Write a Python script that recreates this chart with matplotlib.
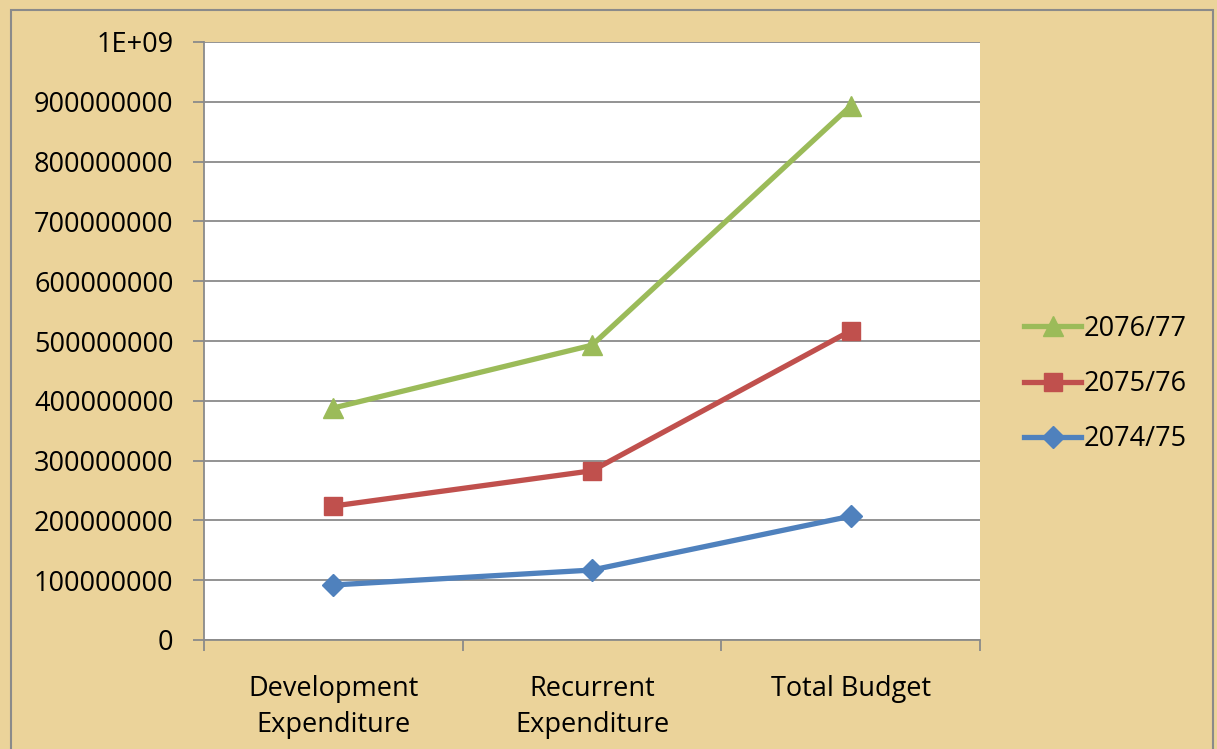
import matplotlib
matplotlib.use("Agg")
import matplotlib.pyplot as plt
from matplotlib.patches import Rectangle

categories = ["Development\nExpenditure", "Recurrent\nExpenditure", "Total Budget"]
fy_7475 = [92000000, 117000000, 207000000]
fy_7576 = [224000000, 283000000, 517000000]
fy_7677 = [388000000, 493000000, 893000000]
yticks = [0, 100000000, 200000000, 300000000, 400000000, 500000000,
          600000000, 700000000, 800000000, 900000000, 1000000000]
ylabels = ["0", "100000000", "200000000", "300000000", "400000000", "500000000",
           "600000000", "700000000", "800000000", "900000000", "1E+09"]

plt.rcParams['font.family'] = ['Open Sans', 'DejaVu Sans']

W, H = 1217, 749
fig = plt.figure(figsize=(W / 100, H / 100), dpi=100)
fig.patch.set_facecolor("#EBD39A")

# outer frame of the chart area
fig.patches.append(Rectangle((11 / W, -0.05), (1213 - 11) / W, 1.05 - 10 / H,
                             transform=fig.transFigure, fill=False,
                             edgecolor="#8a8a8a", linewidth=1.5))

ax = fig.add_axes([204 / W, 1 - 640 / H, (980 - 204) / W, (640 - 42) / H])
ax.set_facecolor("white")

x = range(len(categories))
ax.plot(x, fy_7677, color="#9BBB59", lw=3.8, marker="^", ms=14, label="2076/77")
ax.plot(x, fy_7576, color="#C0504D", lw=3.8, marker="s", ms=13, label="2075/76")
ax.plot(x, fy_7475, color="#4F81BD", lw=3.8, marker="D", ms=11, label="2074/75")

ax.set_xlim(-0.5, 2.5)
ax.set_ylim(0, 1000000000)
ax.set_yticks(yticks)
ax.set_yticklabels(ylabels)
ax.set_xticks([-0.5, 0.5, 1.5, 2.5], minor=False)
ax.set_xticklabels([])
ax.set_xticks(list(x), minor=True)
ax.set_xticklabels(categories, minor=True, linespacing=1.4)
ax.tick_params(axis="x", which="minor", length=0, pad=25, labelsize=19.5)
ax.tick_params(axis="x", which="major", length=8, color="#8a8a8a", width=1.3)
ax.tick_params(axis="y", length=8, color="#8a8a8a", width=1.3, labelsize=19.5, pad=14)
ax.grid(axis="y", color="#8a8a8a", lw=1.3)
ax.set_axisbelow(True)
for s in ["top", "right"]:
    ax.spines[s].set_visible(False)
for s in ["left", "bottom"]:
    ax.spines[s].set_color("#8a8a8a")
    ax.spines[s].set_linewidth(1.3)

fig.legend(loc="center left", bbox_to_anchor=(1000 / W, 1 - 384 / H), frameon=False,
           fontsize=19.5, handlelength=2.1, handletextpad=0.1, labelspacing=1.0)

fig.savefig("out.png", dpi=100, facecolor=fig.get_facecolor())
